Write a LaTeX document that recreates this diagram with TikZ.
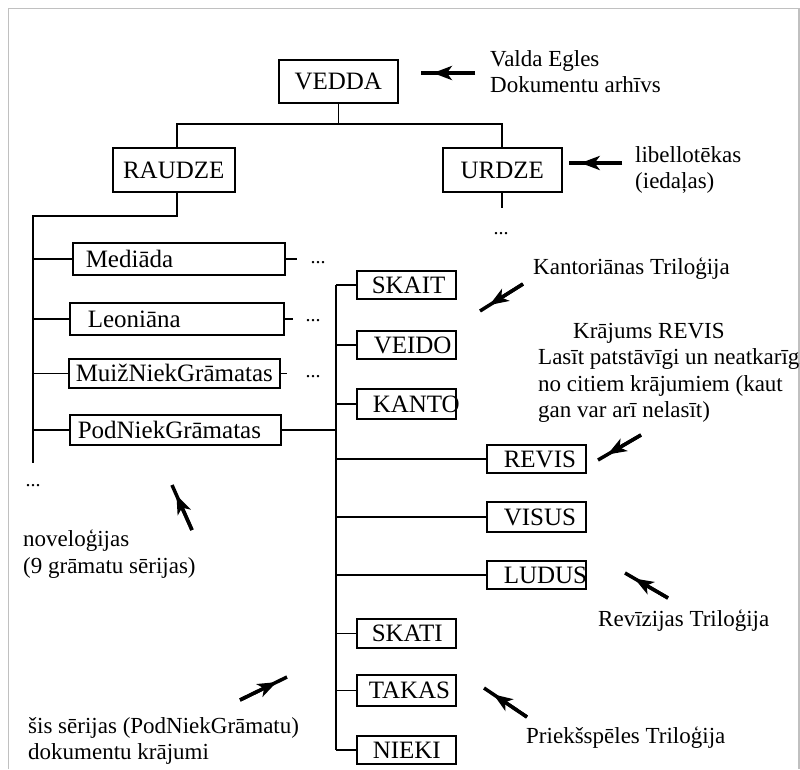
\documentclass[tikz,border=0pt]{standalone}
\usepackage{fontspec}
\setmainfont{Liberation Serif}
\usetikzlibrary{arrows.meta,calc}
\definecolor{framegray}{RGB}{192,192,192}
\newcommand\bxlabel[3]{\makebox[#1pt][l]{\hspace*{#2pt}#3}}
\begin{document}
\begin{tikzpicture}[x=1pt,y=-1pt,
  bx/.style={draw, line width=1.5pt, inner sep=0pt, anchor=north west,
    text height=16.5pt, text depth=0pt, font=\fontsize{25}{28}\selectfont},
  lbl/.style={font=\fontsize{23}{26.5}\selectfont, align=left, inner sep=0pt},
  dotsl/.style={font=\fontsize{20}{24}\selectfont, inner sep=0pt},
  ln/.style={line width=1.5pt},
  shaft/.style={line width=3.5pt},
  headp/.style={line width=3.5pt, -{Stealth[length=19pt,width=14pt,inset=5pt]}},
  framel/.style={draw=framegray, line width=1.5pt}
]
\useasboundingbox (0,0) rectangle (800,769);
% frame
\coordinate (f1) at (8.5,769);
\coordinate (f2) at (8.5,8.5);
\coordinate (f3) at (799,8.5);
\coordinate (f4) at (799,769);
\draw[framel] (f1) -- (f2) -- (f3) -- (f4);

% top level boxes
\node[bx, minimum width=119, minimum height=43] (vedda) at (278,59) {VEDDA};
\node[bx, minimum width=122, minimum height=44] (raudze) at (112,147) {RAUDZE};
\node[bx, minimum width=119, minimum height=44] (urdze) at (442,147) {URDZE};

% left column
\node[bx, minimum height=32] (med) at (72,242) {\bxlabel{212}{13}{Mediāda}};
\node[bx, minimum height=32] (leo) at (69,302) {\bxlabel{214}{18}{Leoniāna}};
\node[bx, minimum height=29] (muiz) at (68,358) {\bxlabel{211}{7}{MuižNiekGrāmatas}};
\node[bx, minimum height=30] (pod) at (69,414) {\bxlabel{211}{8}{PodNiekGrāmatas}};

% right column
\node[bx, minimum height=28] (skait) at (356,270) {\bxlabel{99}{15}{SKAIT}};
\node[bx, minimum height=28] (veido) at (356,330) {\bxlabel{99}{17}{VEIDO}};
\node[bx, minimum height=30] (kanto) at (356,388) {\bxlabel{99}{16}{KANTO}};
\node[bx, minimum height=28] (revis) at (486,444) {\bxlabel{99}{17}{REVIS}};
\node[bx, minimum height=30] (visus) at (486,501) {\bxlabel{99}{17}{VISUS}};
\node[bx, minimum height=28] (ludus) at (486,560) {\bxlabel{99}{17}{LUDUS}};
\node[bx, minimum height=29] (skati) at (356,618) {\bxlabel{99}{15}{SKATI}};
\node[bx, minimum height=31] (takas) at (356,674) {\bxlabel{99}{12}{TAKAS}};
\node[bx, minimum height=28] (nieki) at (356,735) {\bxlabel{99}{16}{NIEKI}};

% tree connectors
\coordinate (h1) at (177,124);
\coordinate (h2) at (502,124);
\draw[ln] (vedda.south) -- (vedda.south |- h1);
\draw[ln] (h1 |- raudze.north) -- (h1) -- (h2) -- (h2 |- urdze.north);
\coordinate (ue) at (502,208);
\draw[ln] (h2 |- urdze.south) -- (ue);

\coordinate (j1) at (177,216);
\coordinate (lvtop) at (33,216);
\coordinate (lvbot) at (33,463);
\draw[ln] (j1 |- raudze.south) -- (j1) -- (lvtop) -- (lvbot);
\foreach \b in {med,leo,muiz,pod} \draw[ln] (lvtop |- \b.west) -- (\b.west);

\coordinate (s1) at (297,258);
\coordinate (s2) at (293,318);
\coordinate (s3) at (287,372.5);
\draw[ln] (med.east) -- (s1 |- med.east);
\draw[ln] (leo.east) -- (s2 |- leo.east);
\draw[ln] (muiz.east) -- (s3 |- muiz.east);

\coordinate (rv) at (336,0);
\draw[ln] (pod.east) -- (rv |- pod.east);
\draw[ln] (rv |- skait.west) -- (rv |- nieki.west);
\foreach \b in {skait,veido,kanto,revis,visus,ludus,skati,takas,nieki} \draw[ln] (rv |- \b.west) -- (\b.west);

% dots
\node[dotsl] (d1) at (318,263) {...};
\node[dotsl] (d2) at (313,321) {...};
\node[dotsl] (d3) at (313,377) {...};
\node[dotsl] (d4) at (501,234) {...};
\node[dotsl] (d5) at (33,486) {...};

% labels
\node[lbl, anchor=west] (lvedda) at (490,71.5) {Valda Egles\\Dokumentu arhīvs};
\node[lbl, anchor=west] (lurdze) at (635,170) {libellotēkas\\(iedaļas)};
\node[lbl, anchor=west] (lkanto) at (533,269) {Kantoriānas Triloģija};
\node[lbl, anchor=north west] (lrevis) at (538,323) {\hspace*{35pt}Krājums REVIS\\Lasīt patstāvīgi un neatkarīgi\\no citiem krājumiem (kaut\\gan var arī nelasīt)};
\node[lbl, anchor=west] (lludus) at (598,621) {Revīzijas Triloģija};
\node[lbl, anchor=west] (ltakas) at (526,738) {Priekšspēles Triloģija};
\node[lbl, anchor=west] (lnovel) at (23,554) {noveloģijas\\(9 grāmatu sērijas)};
\node[lbl, anchor=west] (lseries) at (28,741) {šis sērijas (PodNiekGrāmatu)\\dokumentu krājumi};

% pointer arrows
\coordinate (a1t) at (475,73);   \coordinate (a1h) at (421,73);
\coordinate (a2t) at (622,163);  \coordinate (a2h) at (569,163);
\coordinate (a3t) at (523,284);  \coordinate (a3h) at (480,311);
\coordinate (a4t) at (641,435);  \coordinate (a4h) at (598,460);
\coordinate (a5t) at (668,598);  \coordinate (a5h) at (625,573);
\coordinate (a6t) at (527,717);  \coordinate (a6h) at (484,688);
\coordinate (a7t) at (192,530);  \coordinate (a7h) at (172,485);
\coordinate (a8t) at (240,700);  \coordinate (a8h) at (287,677);
\foreach \i in {1,...,8} {
  \draw[shaft] (a\i t) -- (a\i h);
  \draw[headp] (a\i t) -- ($(a\i t)!0.78!(a\i h)$);
}
\end{tikzpicture}
\end{document}
